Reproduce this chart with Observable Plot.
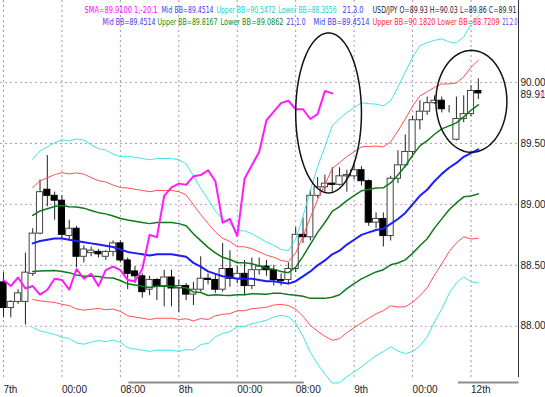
<!DOCTYPE html>
<html><head><meta charset="utf-8">
<script src="https://cdn.jsdelivr.net/npm/d3@7"></script>
<script src="https://cdn.jsdelivr.net/npm/@observablehq/plot@0.6"></script>
<style>
html,body{margin:0;padding:0;background:#fff;}
#chart svg{display:block;}
</style></head><body><div id="chart"></div>
<script>
// ---- Hourly USD/JPY candles (index 0 = first bar, "7th") ----
const open = [88.36,88.15,88.20,88.20,88.43,88.76,89.12,89.07,89.03,88.74,
  88.80,88.57,88.60,88.61,88.57,88.61,88.68,88.54,88.45,88.41,
  88.30,88.38,88.33,88.40,88.31,88.33,88.26,88.30,88.39,88.38,
  88.30,88.47,88.39,88.43,88.33,88.46,88.49,88.46,88.38,88.38,
  88.47,88.75,88.73,89.07,89.14,89.17,89.16,89.23,89.23,89.28,
  89.19,88.85,88.88,88.74,89.21,89.32,89.43,89.69,89.76,89.83,
  89.85,89.78,89.53,89.70,89.74,89.93];
const high = [88.44,88.21,88.30,88.60,88.80,89.20,89.40,89.10,89.07,88.87,
  88.82,88.66,88.65,88.63,88.62,88.70,88.70,88.56,88.49,88.43,
  88.41,88.39,88.46,88.46,88.38,88.35,88.36,88.57,88.43,88.42,
  88.68,88.62,88.49,88.54,88.56,88.56,88.54,88.50,88.43,88.52,
  88.81,88.89,89.11,89.22,89.24,89.30,89.30,89.28,89.34,89.31,
  89.20,88.93,88.93,89.23,89.44,89.57,89.72,89.85,89.88,89.89,
  89.88,89.81,89.88,89.89,89.97,90.03];
const low = [88.07,88.07,88.18,88.01,88.41,88.75,88.98,88.87,88.72,88.70,
  88.48,88.52,88.57,88.56,88.54,88.57,88.52,88.30,88.35,88.23,
  88.25,88.21,88.16,88.16,88.11,88.21,88.17,88.28,88.34,88.27,
  88.28,88.32,88.35,88.25,88.30,88.42,88.41,88.33,88.33,88.35,
  88.44,88.68,88.70,89.05,89.10,89.10,89.15,89.10,89.20,89.15,
  88.82,88.80,88.65,88.70,89.17,89.30,89.38,89.61,89.73,89.82,
  89.75,89.75,89.52,89.67,89.72,89.86];
const close = [88.15,88.20,88.27,88.44,88.76,89.10,89.07,89.03,88.75,88.80,
  88.57,88.63,88.62,88.59,88.61,88.68,88.54,88.43,88.41,88.28,
  88.38,88.33,88.40,88.31,88.33,88.26,88.30,88.39,88.38,88.30,
  88.47,88.39,88.43,88.33,88.46,88.49,88.46,88.38,88.37,88.47,
  88.75,88.73,89.07,89.14,89.17,89.16,89.23,89.24,89.28,89.19,
  88.85,88.88,88.74,89.21,89.32,89.43,89.69,89.76,89.83,89.85,
  89.78,89.78,89.70,89.74,89.93,89.91];

// ---- Bollinger(21): middle line and one standard deviation, bars 4..65 ----
const bandStart = 4;
const bbMid = [88.68,88.70,88.71,88.72,88.72,88.71,88.70,88.69,88.68,88.67,
  88.66,88.65,88.63,88.61,88.60,88.59,88.58,88.59,88.59,88.59,
  88.58,88.57,88.52,88.49,88.45,88.43,88.41,88.40,88.39,88.39,
  88.39,88.38,88.37,88.37,88.36,88.35,88.37,88.41,88.45,88.50,
  88.54,88.59,88.62,88.67,88.71,88.75,88.77,88.79,88.80,88.84,
  88.88,88.93,89.00,89.07,89.12,89.19,89.25,89.30,89.34,89.39,
  89.42,89.4514];
const bbSigma = [0.230,0.246,0.254,0.262,0.270,0.270,0.279,0.279,0.270,0.262,
  0.262,0.254,0.254,0.262,0.262,0.262,0.262,0.262,0.262,0.262,
  0.262,0.254,0.238,0.213,0.197,0.172,0.156,0.148,0.131,0.131,
  0.123,0.115,0.107,0.098,0.090,0.090,0.115,0.164,0.221,0.270,
  0.311,0.352,0.361,0.361,0.361,0.361,0.352,0.344,0.336,0.336,
  0.361,0.385,0.402,0.410,0.402,0.385,0.369,0.344,0.328,0.328,
  0.352,0.3653];
const bandLevels = [3, 2, 1];

// SMA(1) shifted -20 bars (chikou-style line)
const smaShift = 20;

// ---- Axis labels ----
const xTickIdx = [0, 8, 16, 24, 32, 40, 48, 56, 64];
const xTickLabels = ["7th","00:00","08:00","8th","00:00","08:00","9th","00:00","12th"];
const yTicks = [88.00, 88.50, 89.00, 89.50, 90.00];
const dayBars = [[17.1, 41.1], [62.2, 70.5]];

// ---- Annotation ellipses (data units) ----
const ellipses = [
  {cx: 44.5, cy: 89.75, rx: 4.5, ry: 0.656},
  {cx: 64.05, cy: 89.845, rx: 4.86, ry: 0.418}
];

// ---- Legend texts ----
const legendItems = [
  {t: "SMA=89.9100 1,-20.1", c: "#ff00ff", row: 0, x: 84, w: 73},
  {t: "Mid BB=89.4514", c: "#3a3aee", row: 0, x: 161, w: 52},
  {t: "Upper BB=90.5472", c: "#1ccccc", row: 0, x: 216, w: 59},
  {t: "Lower BB=88.3556", c: "#1ccccc", row: 0, x: 278, w: 58},
  {t: "21,3.0", c: "#3a3aee", row: 0, x: 342, w: 21},
  {t: "USD/JPY O=89.93 H=90.03 L=89.86 C=89.91", c: "#1a1a40", row: 0, x: 372, w: 144},
  {t: "Mid BB=89.4514", c: "#3a3aee", row: 1, x: 102, w: 53},
  {t: "Upper BB=89.8167", c: "#108a10", row: 1, x: 157, w: 60},
  {t: "Lower BB=89.0862", c: "#108a10", row: 1, x: 220, w: 63},
  {t: "21,1.0", c: "#3a3aee", row: 1, x: 286, w: 19},
  {t: "Mid BB=89.4514", c: "#3a3aee", row: 1, x: 313, w: 56},
  {t: "Upper BB=90.1820", c: "#ff2a2a", row: 1, x: 372, w: 63},
  {t: "Lower BB=88.7209", c: "#ff2a2a", row: 1, x: 437, w: 62},
  {t: "21,2.0", c: "#3a3aee", row: 1, x: 502, w: 15}
];

// ---- build tables ----
const candles = open.map((o, i) => ({i, o, h: high[i], l: low[i], c: close[i]}));
const bands = bbMid.map((m, k) => ({i: bandStart + k, m, s: bbSigma[k]}));
const sma = d3.range(0, close.length - smaShift).map(i => ({i, v: close[i + smaShift]}));
const ellPts = ellipses.map(e => d3.range(0, 121).map(k => {
  const a = k / 120 * 2 * Math.PI;
  return {x: e.cx + e.rx * Math.cos(a), y: e.cy + e.ry * Math.sin(a)};
}));

const xDomain = [-0.41, 70.5];
const yDomain = [87.58, 90.672];
const bandColor = {3: "#3fe6e6", 2: "#ff5050", 1: "#0b7a1b"};
const bandWidth = {3: 1, 2: 1, 1: 1.5};
const FONT = "'Liberation Sans', Arial, sans-serif";
const LEGEND_FONT = "'Liberation Sans Narrow', 'DejaVu Sans Condensed', 'Liberation Sans', sans-serif";

const bandMarks = [];
for (const k of bandLevels) {
  bandMarks.push(Plot.line(bands, {x: "i", y: d => d.m + k * d.s, stroke: bandColor[k], strokeWidth: bandWidth[k]}));
  bandMarks.push(Plot.line(bands, {x: "i", y: d => d.m - k * d.s, stroke: bandColor[k], strokeWidth: bandWidth[k]}));
}

const legendMarks = legendItems.map((d, k) => Plot.text([d.t], {
  frameAnchor: "top-left", dx: d.x, dy: d.row === 0 ? 6 : 18, text: t => t,
  fill: d.c, textAnchor: "start", fontSize: 8.5, fontFamily: LEGEND_FONT, ariaDescription: "legend-" + k
}));

const chart = Plot.plot({
  width: 545, height: 397,
  marginLeft: 0, marginRight: 27, marginTop: 0, marginBottom: 20,
  x: {domain: xDomain, axis: null},
  y: {domain: yDomain, axis: null},
  style: {background: "white", fontFamily: FONT},
  marks: [
    Plot.ruleY(yTicks, {stroke: (d, i) => i % 2 === 0 ? "#c99ab6" : "#8fa3b3", strokeDasharray: "2,3", strokeWidth: 1}),
    Plot.ruleX(xTickIdx, {stroke: "#a993ad", strokeDasharray: "2,3", strokeWidth: 1}),
    Plot.ruleX(candles, {x: "i", y1: "l", y2: "h", stroke: "#222", strokeWidth: 1}),
    Plot.rect(candles, {x1: d => d.i - 0.42, x2: d => d.i + 0.42, y1: "o", y2: "c",
      fill: d => d.c > d.o ? "white" : "black", stroke: d => d.c > d.o ? "#444" : "#000", strokeWidth: 1}),
    ...bandMarks,
    Plot.line(bands, {x: "i", y: "m", stroke: "#1c1cff", strokeWidth: 2}),
    Plot.line(sma, {x: "i", y: "v", stroke: "#ff1aff", strokeWidth: 2}),
    ...ellPts.map(p => Plot.line(p, {x: "x", y: "y", stroke: "#111", strokeWidth: 1.5})),
    Plot.ruleX([xDomain[1]], {stroke: "#333", strokeWidth: 1}),
    Plot.link(dayBars, {x1: d => d[0], x2: d => d[1], y1: yDomain[0], y2: yDomain[0], dy: 5, stroke: "#8c8c96", strokeWidth: 2}),
    Plot.text(xTickIdx, {x: d => d, y: yDomain[0], text: (d, i) => xTickLabels[i], dy: 12, textAnchor: "start", fontSize: 10, fill: "#1a1a2a"}),
    Plot.text(yTicks, {x: xDomain[1], y: d => d, text: d => d3.format(".2f")(d), dx: 2, textAnchor: "start", fontSize: 10, fill: "#1a1a2a"}),
    Plot.text([close[close.length - 1]], {x: xDomain[1], y: d => d, text: d => d3.format(".2f")(d), dx: 2, dy: 1, textAnchor: "start", fontSize: 10, fill: "#1a1a2a"}),
    Plot.dot([close[close.length - 1]], {x: xDomain[1], y: d => d, dx: 24, dy: 1, symbol: "square", r: 2, fill: "#ffa0ff"}),
    ...legendMarks
  ]
});

// squeeze legend texts to the narrow widths of the original terminal font
legendItems.forEach((d, k) => {
  const g = chart.querySelector('[aria-description="legend-' + k + '"]');
  const el = g ? (g.tagName.toLowerCase() === "text" ? g : g.querySelector("text")) : null;
  if (el) {
    el.setAttribute("textLength", d.w);
    el.setAttribute("lengthAdjust", "spacingAndGlyphs");
  }
});
document.getElementById("chart").appendChild(chart);
</script></body></html>
